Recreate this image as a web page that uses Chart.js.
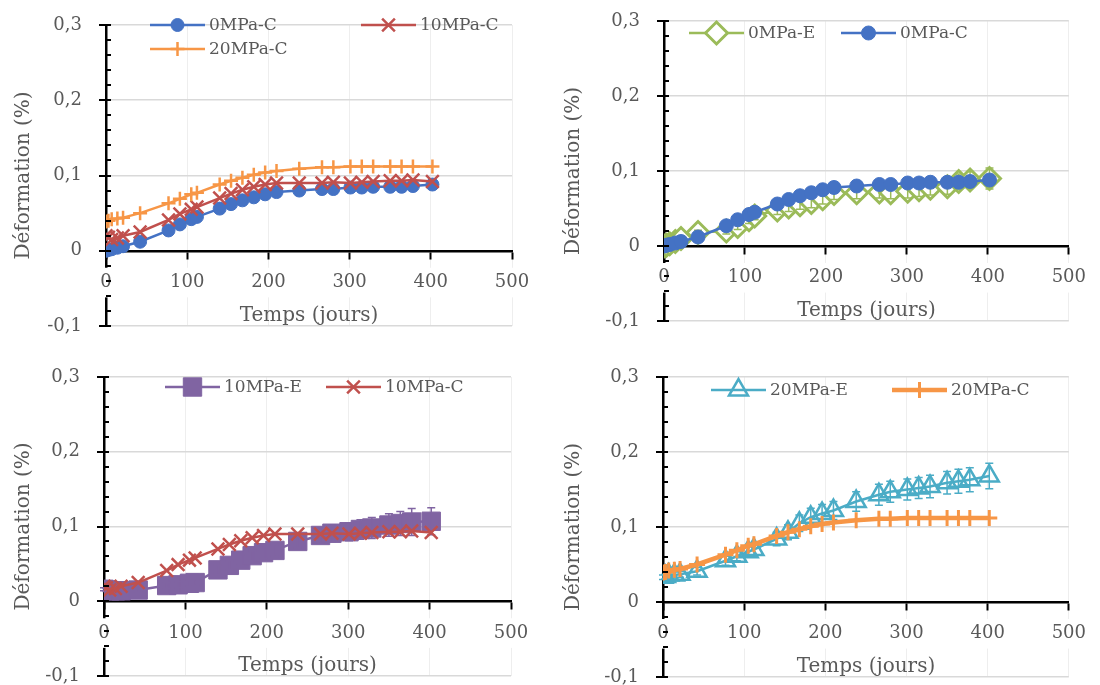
<!DOCTYPE html>
<html>
<head>
<meta charset="utf-8">
<script src="https://cdn.jsdelivr.net/npm/chart.js@4.4.1/dist/chart.umd.min.js"></script>
<style>
    html, body { margin: 0; padding: 0; background: #fff; width: 1100px; height: 685px; overflow: hidden; }
    canvas { position: absolute; }
</style>
</head>
<body>
<canvas id="p1" width="550" height="343" style="left:0;top:0"></canvas>
<canvas id="p2" width="550" height="343" style="left:550px;top:0"></canvas>
<canvas id="p3" width="550" height="352" style="left:0;top:343px"></canvas>
<canvas id="p4" width="550" height="352" style="left:550px;top:343px"></canvas>
<script>
// --- DATA ---
const days = [0, 3, 7, 14, 21, 42, 77, 91, 105, 112, 140, 154, 168, 182, 196, 210, 238, 266, 280, 301, 315, 329, 350, 364, 378, 402];

const c0  = [0.000, 0.001, 0.002, 0.004, 0.006, 0.012, 0.027, 0.035, 0.042, 0.045, 0.056, 0.062, 0.067, 0.071, 0.075, 0.078, 0.080, 0.082, 0.082, 0.084, 0.084, 0.085, 0.085, 0.085, 0.086, 0.088];
const c10 = [0.020, 0.018, 0.015, 0.017, 0.020, 0.025, 0.041, 0.049, 0.055, 0.058, 0.070, 0.076, 0.081, 0.085, 0.088, 0.090, 0.090, 0.090, 0.091, 0.090, 0.091, 0.092, 0.093, 0.093, 0.094, 0.092];
const c20 = [0.039, 0.040, 0.042, 0.043, 0.044, 0.050, 0.063, 0.069, 0.075, 0.077, 0.088, 0.093, 0.097, 0.101, 0.104, 0.106, 0.109, 0.111, 0.111, 0.112, 0.112, 0.112, 0.112, 0.112, 0.112, 0.112];

const e0     = [0.000, 0.001, 0.003, 0.006, 0.010, 0.018, 0.020, 0.026, 0.035, 0.040, 0.048, 0.052, 0.055, 0.058, 0.063, 0.070, 0.071, 0.072, 0.071, 0.073, 0.075, 0.077, 0.079, 0.086, 0.088, 0.090];
const e0Err  = [0.000, 0.000, 0.000, 0.002, 0.002, 0.003, 0.004, 0.004, 0.005, 0.005, 0.006, 0.006, 0.006, 0.007, 0.007, 0.008, 0.008, 0.008, 0.008, 0.009, 0.009, 0.009, 0.010, 0.010, 0.011, 0.014];
const e10    = [0.016, 0.015, 0.014, 0.014, 0.014, 0.015, 0.021, 0.022, 0.024, 0.025, 0.042, 0.048, 0.055, 0.061, 0.065, 0.068, 0.080, 0.088, 0.091, 0.093, 0.096, 0.098, 0.102, 0.104, 0.106, 0.107];
const e10Err = [0.002, 0.002, 0.002, 0.003, 0.003, 0.003, 0.004, 0.004, 0.004, 0.004, 0.006, 0.006, 0.007, 0.007, 0.008, 0.008, 0.009, 0.010, 0.011, 0.012, 0.013, 0.014, 0.015, 0.016, 0.018, 0.018];
const e20    = [0.033, 0.034, 0.036, 0.036, 0.037, 0.041, 0.055, 0.061, 0.067, 0.070, 0.084, 0.093, 0.105, 0.113, 0.118, 0.122, 0.134, 0.143, 0.147, 0.150, 0.152, 0.154, 0.159, 0.161, 0.163, 0.168];
const e20Err = [0.003, 0.003, 0.003, 0.004, 0.004, 0.005, 0.006, 0.006, 0.007, 0.007, 0.009, 0.010, 0.011, 0.012, 0.012, 0.012, 0.013, 0.014, 0.014, 0.014, 0.014, 0.015, 0.015, 0.016, 0.016, 0.017];

const xRange = [0, 500], yRange = [-0.1, 0.3];

// --- STYLE HELPERS ---
const FONT = "'DejaVu Serif', 'Liberation Serif', serif";
const GREY = '#595959';
const pts = (ys) => days.map((d, i) => ({ x: d, y: ys[i] }));

function series(label, ys, color, shape, r, opts) {
    return Object.assign({
        label, data: pts(ys), borderColor: color, backgroundColor: color,
        borderWidth: 2.5, tension: 0, pointStyle: shape, pointRadius: r,
        pointBackgroundColor: color, pointBorderColor: color, pointBorderWidth: 1
    }, opts || {});
}

// error bars drawn right after their own dataset
const errorBars = {
    id: 'errorBars',
    afterDatasetDraw(chart, args) {
        const ds = chart.data.datasets[args.index];
        if (!ds.errors) return;
        const ctx = chart.ctx, ys = chart.scales.y;
        ctx.save();
        ctx.strokeStyle = ds.borderColor; ctx.lineWidth = 1.5;
        args.meta.data.forEach((p, i) => {
            const e = ds.errors[i]; if (!e) return;
            const v = ds.data[i].y;
            const t = ys.getPixelForValue(v + e), b = ys.getPixelForValue(v - e);
            ctx.beginPath();
            ctx.moveTo(p.x, t); ctx.lineTo(p.x, b);
            ctx.moveTo(p.x - 4, t); ctx.lineTo(p.x + 4, t);
            ctx.moveTo(p.x - 4, b); ctx.lineTo(p.x + 4, b);
            ctx.stroke();
        });
        ctx.restore();
    }
};

// y axis tick marks: minor ones inside, major ones crossing the axis
const yTickMarks = {
    id: 'yTickMarks',
    afterDraw(chart) {
        const ctx = chart.ctx, ys = chart.scales.y, left = chart.chartArea.left;
        ctx.save(); ctx.strokeStyle = '#000'; ctx.lineWidth = 2;
        for (let k = -5; k <= 15; k++) {
            const py = Math.round(ys.getPixelForValue(k * 0.02));
            ctx.beginPath(); ctx.moveTo(k % 5 === 0 ? left - 7 : left, py); ctx.lineTo(left + 5, py); ctx.stroke();
        }
        ctx.restore();
    }
};

// Excel-like legend: line sample with marker, then label
const sampleLegend = {
    id: 'sampleLegend',
    afterDraw(chart, args, o) {
        const ctx = chart.ctx;
        ctx.save();
        chart.data.datasets.forEach((ds, i) => {
            const pos = o.items[i]; if (!pos) return;
            const len = 55;
            ctx.strokeStyle = ds.borderColor; ctx.lineWidth = ds.borderWidth;
            ctx.beginPath(); ctx.moveTo(pos.x, pos.y); ctx.lineTo(pos.x + len, pos.y); ctx.stroke();
            ctx.fillStyle = ds.pointBackgroundColor; ctx.strokeStyle = ds.pointBorderColor;
            ctx.lineWidth = ds.pointBorderWidth;
            if (Chart.helpers && Chart.helpers.drawPoint) {
                Chart.helpers.drawPoint(ctx, { pointStyle: ds.pointStyle, rotation: 0, radius: ds.pointRadius, borderWidth: ds.pointBorderWidth }, pos.x + len / 2, pos.y);
            }
            ctx.fillStyle = GREY; ctx.font = '17px ' + FONT; ctx.textBaseline = 'middle';
            ctx.fillText(ds.label, pos.x + len + 4, pos.y + 1);
        });
        ctx.restore();
    }
};

function panel(id, area, datasets, legendItems) {
    const cv = document.getElementById(id);
    const W = cv.width, H = cv.height;
    return new Chart(cv, {
        type: 'line',
        data: { datasets },
        plugins: [errorBars, yTickMarks, sampleLegend],
        options: {
            responsive: false, animation: false, events: [],
            layout: { padding: { left: 0, top: area.top, right: W - area.right, bottom: H - area.bottom } },
            plugins: { legend: { display: false }, tooltip: { enabled: false }, sampleLegend: { items: legendItems } },
            scales: {
                x: {
                    type: 'linear', position: { y: 0 }, min: xRange[0], max: xRange[1],
                    ticks: {
                        stepSize: 100, color: GREY, font: { family: FONT, size: 18 }, padding: 14, z: 1,
                        showLabelBackdrop: true, backdropColor: '#fff', backdropPadding: { top: 4, bottom: 4, left: 2, right: 2 }
                    },
                    grid: { color: '#eeeeee', lineWidth: 1, tickColor: '#000', tickLength: 7, tickWidth: 2 },
                    border: { color: '#000', width: 2.5 },
                    title: { display: true, text: 'Temps (jours)', color: GREY, font: { family: FONT, size: 20, lineHeight: 0.8 }, padding: { top: 0, bottom: 0 } }
                },
                y: {
                    min: yRange[0], max: yRange[1],
                    afterFit: (s) => { s.width = area.left; },
                    ticks: {
                        stepSize: 0.1, color: GREY, font: { family: FONT, size: 18 }, padding: 2,
                        callback: (v) => Math.abs(v) < 1e-9 ? '0' : Number(v).toFixed(1).replace('.', ',')
                    },
                    grid: {
                        color: (c) => (c.tick && Math.abs(c.tick.value) < 1e-9) ? 'rgba(0,0,0,0)' : '#d9d9d9',
                        lineWidth: 1.5, tickColor: 'rgba(0,0,0,0)', tickLength: 22, tickWidth: 0
                    },
                    border: { color: '#000', width: 2.5 },
                    title: { display: true, text: 'Déformation (%)', color: GREY, font: { family: FONT, size: 20 }, padding: { top: 12, bottom: 0 } }
                }
            }
        }
    });
}

const BLUE = '#4472C4', RED = '#C0504D', ORANGE = '#F79646', GREEN = '#9BBB59', PURPLE = '#8064A2', TEAL = '#4BACC6';

panel('p1', { left: 106, right: 512, top: 25, bottom: 326 }, [
    series('0MPa-C', c0, BLUE, 'circle', 6.5, { order: 3 }),
    series('10MPa-C', c10, RED, 'crossRot', 9, { order: 2, pointBorderWidth: 2.5 }),
    series('20MPa-C', c20, ORANGE, 'cross', 7, { order: 1, pointBorderWidth: 2.5 })
], [{ x: 150, y: 25 }, { x: 361, y: 25 }, { x: 150, y: 49 }]);

panel('p2', { left: 114, right: 522, top: 21, bottom: 321 }, [
    series('0MPa-E', e0, GREEN, 'rectRot', 11, { order: 2, pointBackgroundColor: '#fff', pointBorderWidth: 3, errors: e0Err }),
    series('0MPa-C', c0, BLUE, 'circle', 7, { order: 1 })
], [{ x: 139, y: 33 }, { x: 291, y: 33 }]);

panel('p3', { left: 104, right: 511, top: 34, bottom: 333 }, [
    series('10MPa-E', e10, PURPLE, 'rect', 13, { order: 2, errors: e10Err }),
    series('10MPa-C', c10, RED, 'crossRot', 9, { order: 1, pointBorderWidth: 2.5 })
], [{ x: 165, y: 44 }, { x: 326, y: 44 }]);

panel('p4', { left: 113, right: 519, top: 34, bottom: 334 }, [
    series('20MPa-E', e20, TEAL, 'triangle', 11, { order: 2, pointBackgroundColor: 'rgba(255,255,255,0)', pointBorderWidth: 2.5, errors: e20Err }),
    series('20MPa-C', c20, ORANGE, 'cross', 8, { order: 1, borderWidth: 4.5, pointBorderWidth: 3 })
], [{ x: 161, y: 47 }, { x: 342, y: 47 }]);
</script>
</body>
</html>
